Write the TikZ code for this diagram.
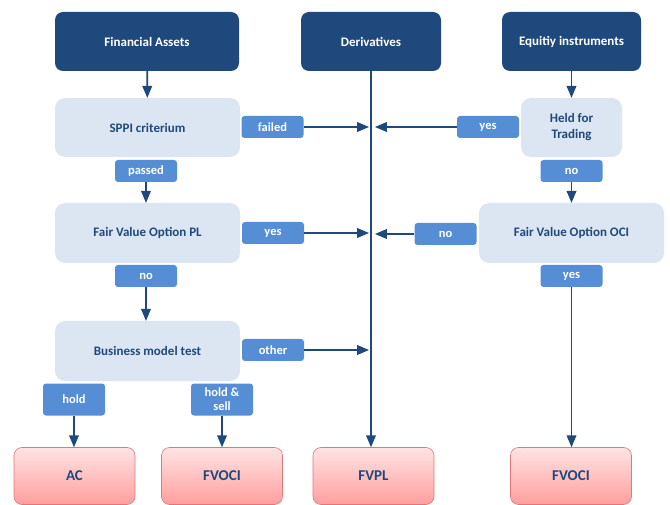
\documentclass[tikz,border=0pt]{standalone}
\usepackage{fontspec}
\setmainfont{Carlito}
\usepackage{tikz}
\usetikzlibrary{arrows}
\definecolor{navy}{RGB}{31,73,125}
\definecolor{paleblue}{RGB}{220,230,242}
\definecolor{tagblue}{RGB}{85,142,213}
\definecolor{rosetop}{RGB}{255,228,228}
\definecolor{rosebot}{RGB}{255,158,158}
\definecolor{roseline}{RGB}{224,120,120}
\tikzset{
  darkbox/.style={fill=navy,text=white,rounded corners=8pt,font=\bfseries\fontsize{13}{15}\selectfont,inner sep=0pt},
  lightbox/.style={fill=paleblue,text=navy,rounded corners=10pt,font=\bfseries\fontsize{13}{16}\selectfont,align=center,inner sep=0pt},
  tagbox/.style={fill=tagblue,text=white,rounded corners=3pt,font=\bfseries\fontsize{12.5}{15}\selectfont,align=center,inner sep=0pt,minimum width=62pt,minimum height=22pt},
  resultbox/.style={draw=roseline,line width=0.6pt,top color=rosetop,bottom color=rosebot,text=navy,rounded corners=8pt,font=\bfseries\fontsize{15}{17}\selectfont,minimum width=121pt,minimum height=57pt,inner sep=0pt},
  flow/.style={draw=navy,line width=1.8pt,-triangle 45}
}
\begin{document}
\begin{tikzpicture}[x=1pt,y=-1pt]
\useasboundingbox (0,0) rectangle (670,505);
%\draw[help lines] (0,0) grid[step=50] (670,505);
% top row
\node[darkbox,minimum width=184pt,minimum height=59pt] (fa) at (147,41.5) {Financial Assets};
\node[darkbox,minimum width=140pt,minimum height=59pt] (der) at (371,41.5) {Derivatives};
\node[darkbox,minimum width=139pt,minimum height=59pt] (eq) at (571.5,41.5) {Equitiy instruments};
% left column
\node[lightbox,minimum width=185pt,minimum height=59pt] (sppi) at (147.5,127.5) {SPPI criterium};
\node[tagbox] (failed) at (272.5,127) {failed};
\node[tagbox] (passed) at (146,171) {passed};
\node[lightbox,minimum width=185pt,minimum height=60pt] (fvopl) at (147.5,233) {Fair Value Option PL};
\node[tagbox] (yesB) at (273,233) {yes};
\node[tagbox] (noC) at (146,276) {no};
\node[lightbox,minimum width=185pt,minimum height=60pt] (bmt) at (147.5,351) {Business model test};
\node[tagbox] (other) at (273,350) {other};
\node[tagbox,minimum height=32pt] (hold) at (74,399.5) {hold};
\node[tagbox,minimum height=32pt,font=\bfseries\fontsize{12.5}{14}\selectfont] (holdsell) at (222,399.5) {hold \&\\sell};
% right column
\node[lightbox,minimum width=101pt,minimum height=59pt] (held) at (571.5,127.5) {Held for\\Trading};
\node[tagbox] (yesA) at (488,127) {yes};
\node[tagbox] (noA) at (571.5,171) {no};
\node[lightbox,minimum width=185pt,minimum height=60pt] (fvooci) at (571.5,233) {Fair Value Option OCI};
\node[tagbox] (noB) at (445.5,234) {no};
\node[tagbox] (yesC) at (571.5,276) {yes};
% results
\node[resultbox] (ac) at (74.5,476) {AC};
\node[resultbox] (fvoci) at (222,476) {FVOCI};
\node[resultbox] (fvpl) at (373.5,476) {FVPL};
\node[resultbox] (fvocir) at (571,476) {FVOCI};
% junctions on the derivatives line
\coordinate (jl) at (369,0);
\coordinate (jr) at (375,0);
\draw[flow] (fa) -- (sppi);
\draw[flow] (passed) -- (passed |- fvopl.north);
\draw[flow] (noC) -- (noC |- bmt.north);
\draw[flow] (hold) -- (hold |- ac.north);
\draw[flow] (holdsell) -- (holdsell |- fvoci.north);
\draw[flow] (der.south) -- (der.south |- fvpl.north);
\draw[flow] (eq) -- (held);
\draw[flow] (noA) -- (fvooci);
\draw[flow] (yesC) -- (yesC |- fvocir.north);
\draw[flow] (failed.east) -- (failed.east -| jl);
\draw[flow] (yesB.east) -- (yesB.east -| jl);
\draw[flow] (other.east) -- (other.east -| jl);
\draw[flow] (yesA.west) -- (yesA.west -| jr);
\draw[flow] (noB.west) -- (noB.west -| jr);
\end{tikzpicture}
\end{document}
